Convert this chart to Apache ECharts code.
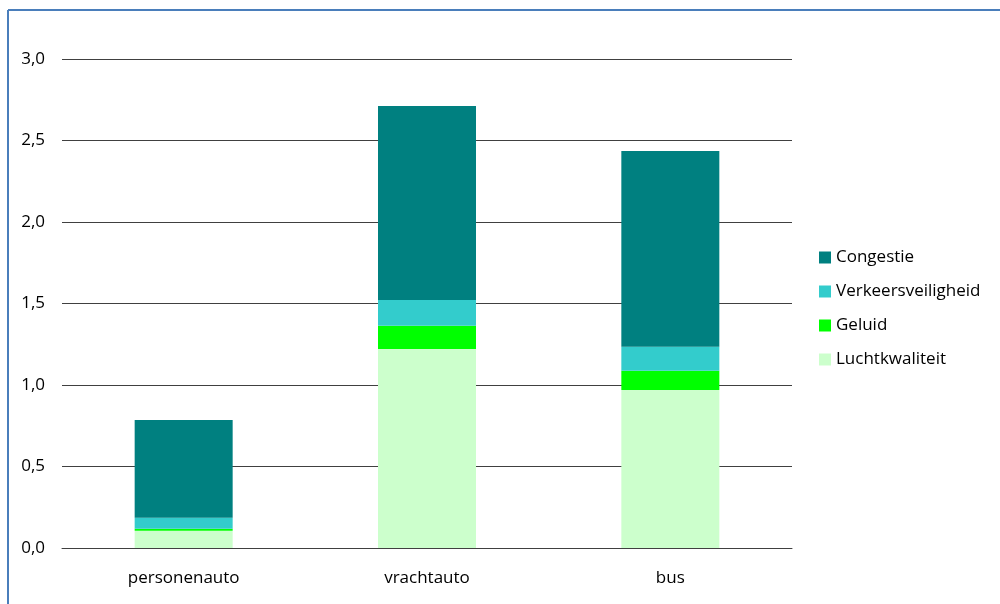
<!DOCTYPE html>
<html>
<head>
<meta charset="utf-8">
<script src="https://cdn.jsdelivr.net/npm/echarts@6/dist/echarts.min.js"></script>
<style>
html,body{margin:0;padding:0;background:#fff;}
#chart{width:1000px;height:604px;}
</style>
</head>
<body>
<div id="chart"></div>
<script>
const categories = ['personenauto', 'vrachtauto', 'bus'];
const luchtkwaliteit = [0.106, 1.221, 0.969];
const geluid = [0.012, 0.143, 0.119];
const verkeersveiligheid = [0.068, 0.157, 0.147];
const congestie = [0.600, 1.191, 1.201];
const yTicks = [0, 0.5, 1.0, 1.5, 2.0, 2.5, 3.0];

const FONT = 'Open Sans';
const chart = echarts.init(document.getElementById('chart'));
function mk(name, data, color) {
  return { name, type: 'bar', stack: 'total', data, barWidth: 98,
    itemStyle: { color }, emphasis: { disabled: true } };
}
chart.setOption({
  animation: false,
  textStyle: { fontFamily: FONT },
  graphic: [
    { type: 'line', shape: { x1: 8, y1: 10, x2: 1000, y2: 10 }, style: { stroke: '#4a7ebb', lineWidth: 2 } },
    { type: 'line', shape: { x1: 8, y1: 10, x2: 8, y2: 604 }, style: { stroke: '#4a7ebb', lineWidth: 2 } }
  ],
  grid: { left: 62, right: 208, top: 59, bottom: 56 },
  legend: {
    orient: 'vertical', left: 814, top: 244, itemWidth: 12, itemHeight: 12, itemGap: 17,
    icon: 'rect',
    data: ['Congestie', 'Verkeersveiligheid', 'Geluid', 'Luchtkwaliteit'],
    textStyle: { fontFamily: FONT, fontSize: 17, color: '#000', padding: [0, 0, 0, 0] },
    itemStyle: { borderWidth: 0 }
  },
  xAxis: {
    type: 'category', data: categories,
    axisLine: { show: true, lineStyle: { color: '#404040', width: 1 } },
    axisTick: { show: false },
    axisLabel: { fontFamily: FONT, fontSize: 17, color: '#000', margin: 22 }
  },
  yAxis: {
    type: 'value', min: 0, max: 3, interval: 0.5,
    axisLine: { show: false }, axisTick: { show: false },
    splitLine: { lineStyle: { color: '#404040', width: 1 } },
    axisLabel: { fontFamily: FONT, fontSize: 17, color: '#000', margin: 17,
      formatter: v => v.toFixed(1).replace('.', ',') }
  },
  series: [
    mk('Luchtkwaliteit', luchtkwaliteit, '#CCFFCC'),
    mk('Geluid', geluid, '#00FF00'),
    mk('Verkeersveiligheid', verkeersveiligheid, '#33CCCC'),
    mk('Congestie', congestie, '#008080')
  ]
});
</script>
</body>
</html>
